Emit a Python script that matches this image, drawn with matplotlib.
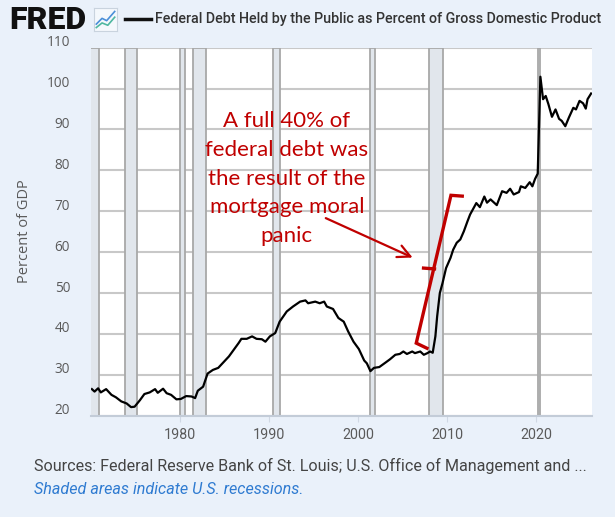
import matplotlib
matplotlib.use("Agg")
import matplotlib.pyplot as plt
import matplotlib.transforms as mtransforms
from matplotlib.lines import Line2D

# data (decimal year, percent of GDP)
years = [1970.1, 1970.4, 1970.8, 1971.1, 1971.7, 1972.3, 1972.8, 1973.4, 1974.0, 1974.5,
         1974.9, 1975.5, 1976.0, 1976.6, 1977.2, 1977.5, 1978.1, 1978.5, 1979.0, 1979.6,
         1980.1, 1980.7, 1981.3, 1981.7, 1982.0, 1982.6, 1983.1, 1983.7, 1984.3, 1984.9,
         1985.5, 1986.1, 1986.6, 1986.9, 1987.5, 1988.1, 1988.6, 1989.2, 1989.6, 1990.1,
         1990.7, 1991.2, 1992.0, 1992.7, 1993.5, 1994.1, 1994.4, 1995.2, 1995.7, 1996.2,
         1996.5, 1997.2, 1997.8, 1998.4, 1998.9, 1999.5, 2000.1, 2000.7, 2001.0, 2001.4,
         2001.8, 2002.4, 2003.1, 2003.6, 2004.2, 2004.7, 2005.1, 2005.5, 2006.1, 2006.4,
         2007.0, 2007.4, 2007.8, 2008.1, 2008.4, 2008.7, 2008.9, 2009.2, 2009.5, 2009.9,
         2010.4, 2010.7, 2011.1, 2011.5, 2011.9, 2012.3, 2012.6, 2013.0, 2013.3, 2013.7,
         2014.2, 2014.5, 2014.9, 2015.6, 2016.2, 2016.7, 2017.1, 2017.5, 2018.1, 2018.3,
         2018.8, 2019.3, 2019.6, 2019.9, 2020.2, 2020.5, 2020.8, 2021.1, 2021.4, 2021.8,
         2022.2, 2022.6, 2022.9, 2023.3, 2023.7, 2024.2, 2024.5, 2024.9, 2025.3, 2025.6,
         2025.8, 2026.2]
debt_pct = [26.5, 25.9, 26.7, 25.7, 26.5, 25.1, 24.5, 23.5, 23.0, 22.1,
            22.2, 23.8, 25.3, 25.7, 26.5, 25.6, 26.6, 25.5, 25.1, 24.0,
            24.1, 24.8, 24.7, 24.3, 26.1, 27.1, 30.3, 31.2, 31.7, 33.1,
            34.5, 36.3, 37.8, 38.8, 38.8, 39.4, 38.8, 38.7, 38.1, 39.4,
            40.2, 43.0, 45.5, 46.7, 47.9, 48.2, 47.5, 47.9, 47.5, 47.9,
            46.7, 46.1, 43.9, 43.0, 40.6, 38.1, 36.3, 33.5, 32.8, 30.9,
            31.7, 31.9, 33.0, 33.8, 34.9, 35.1, 35.7, 35.1, 35.7, 35.3,
            35.7, 34.9, 35.3, 35.7, 35.4, 39.4, 44.3, 50.0, 52.4, 56.1,
            58.6, 60.6, 62.3, 63.1, 65.1, 67.5, 69.2, 70.8, 72.0, 71.0,
            73.6, 72.1, 72.9, 71.5, 74.9, 74.5, 75.5, 74.1, 74.7, 76.1,
            75.7, 77.1, 76.1, 77.9, 79.2, 102.9, 97.4, 98.2, 96.2, 93.1,
            94.9, 92.6, 92.1, 90.8, 92.9, 95.3, 94.9, 97.0, 96.4, 95.1,
            97.4, 98.8]

recessions = [(1969.9, 1970.85), (1973.8, 1975.2), (1980.0, 1980.6), (1981.5, 1982.9),
              (1990.5, 1991.25), (2001.3, 2001.9), (2008.0, 2009.5), (2020.2, 2020.5)]

x_ticks = [1980, 1990, 2000, 2010, 2020]
y_ticks = [20, 30, 40, 50, 60, 70, 80, 90, 100, 110]

note = "A full 40% of\nfederal debt was\nthe result of the\nmortgage moral\npanic"

# red bracket drawn over the 2008-2010 jump (year, pct)
bracket_x = [2007.75, 2006.55, 2010.45, 2011.72]
bracket_y = [36.5, 37.75, 73.9, 73.7]
mid_tick_x = [2008.6, 2007.37]
mid_tick_y = [55.9, 56.1]

bg = "#eaf1fa"
red = "#c00000"
grey_txt = "#5a5a5a"

fig = plt.figure(figsize=(6.15, 5.17), dpi=100, facecolor=bg)
ax = fig.add_axes([91 / 615, 1 - 415.7 / 517, 501 / 615, 368 / 517])
ax.set_facecolor("white")

for a, b in recessions:
    ax.axvspan(a, b, facecolor="#e1e6ec", edgecolor="#a8a8a8", linewidth=1.3, zorder=1)

ax.set_yticks(y_ticks)
ax.set_xticks(x_ticks)
ax.grid(axis="y", color="#c8c8c8", linewidth=1.5, zorder=0)
ax.set_axisbelow(True)

ax.plot(years, debt_pct, color="black", linewidth=1.6, zorder=3)

ax.set_xlim(1970.0, 2026.3)
ax.set_ylim(20, 110)

for s in ["top", "left", "right"]:
    ax.spines[s].set_visible(False)
ax.spines["bottom"].set_color("#c3ccd8")
ax.spines["bottom"].set_linewidth(1.5)
ax.tick_params(axis="y", length=0, pad=15, labelsize=9.8, labelcolor=grey_txt)
ax.tick_params(axis="x", length=4, color="#d0d8e4", pad=5, labelsize=10.3, labelcolor=grey_txt)
for lab in ax.get_yticklabels():
    lab.set_fontfamily("Open Sans")
    lab.set_transform(lab.get_transform() + mtransforms.ScaledTranslation(0, 7 / 100, fig.dpi_scale_trans))
for lab in ax.get_xticklabels():
    lab.set_fontfamily("Roboto")

fig.text(25 / 615, 1 - 231 / 517, "Percent of GDP", rotation=90, fontsize=10.5, color=grey_txt,
         family="Open Sans", ha="center", va="center")

# annotation
ax.text(1992.0, 78.0, note, ha="center", va="center", color=red, fontsize=16,
        family="Lato", linespacing=1.55, zorder=5)
ax.annotate("", xy=(2006.43, 58.4), xytext=(1996.1, 68.6),
            arrowprops=dict(arrowstyle="->,head_length=0.9,head_width=0.45", color=red, lw=1.6),
            zorder=5)
ax.plot(bracket_x, bracket_y, color=red, linewidth=2.4, solid_joinstyle="miter", zorder=5)
ax.plot(mid_tick_x, mid_tick_y, color=red, linewidth=2.4, zorder=5)

# header
fig.text(9 / 615, 1 - 20 / 517, "FRED", fontsize=23, fontweight="black", family="Roboto",
         color="#111111", va="center", ha="left")
icon = fig.add_axes([94 / 615, 1 - 31 / 517, 23 / 615, 23 / 517])
icon.set_facecolor("#f4f8fc")
icon.set_xticks([])
icon.set_yticks([])
for s in icon.spines.values():
    s.set_color("#c9d3de")
icon.plot([0.1, 0.35, 0.55, 0.9], [0.3, 0.55, 0.45, 0.85], color="#4a8fd8", lw=1.2)
icon.plot([0.1, 0.35, 0.6, 0.9], [0.15, 0.35, 0.25, 0.6], color="#4fb7a0", lw=1.2)
icon.set_xlim(0, 1)
icon.set_ylim(0, 1)
fig.add_artist(Line2D([125 / 615, 151 / 615], [1 - 19 / 517, 1 - 19 / 517], color="#111111",
                      linewidth=2.5, transform=fig.transFigure))
fig.text(155 / 615, 1 - 19 / 517, "Federal Debt Held by the Public as Percent of Gross Domestic Product",
         fontsize=10.3, fontweight="medium", family="Roboto", color="#333333", va="center", ha="left")

# footer
fig.text(34 / 615, 1 - 466 / 517, "Sources: Federal Reserve Bank of St. Louis; U.S. Office of Management and ...",
         fontsize=11.6, family="Roboto", color="#444444", va="center", ha="left")
fig.text(34 / 615, 1 - 490 / 517, "Shaded areas indicate U.S. recessions.",
         fontsize=11.6, family="Roboto", style="italic", color="#2f7bd1", va="center", ha="left")

fig.savefig("out.png", dpi=100, facecolor=bg)
